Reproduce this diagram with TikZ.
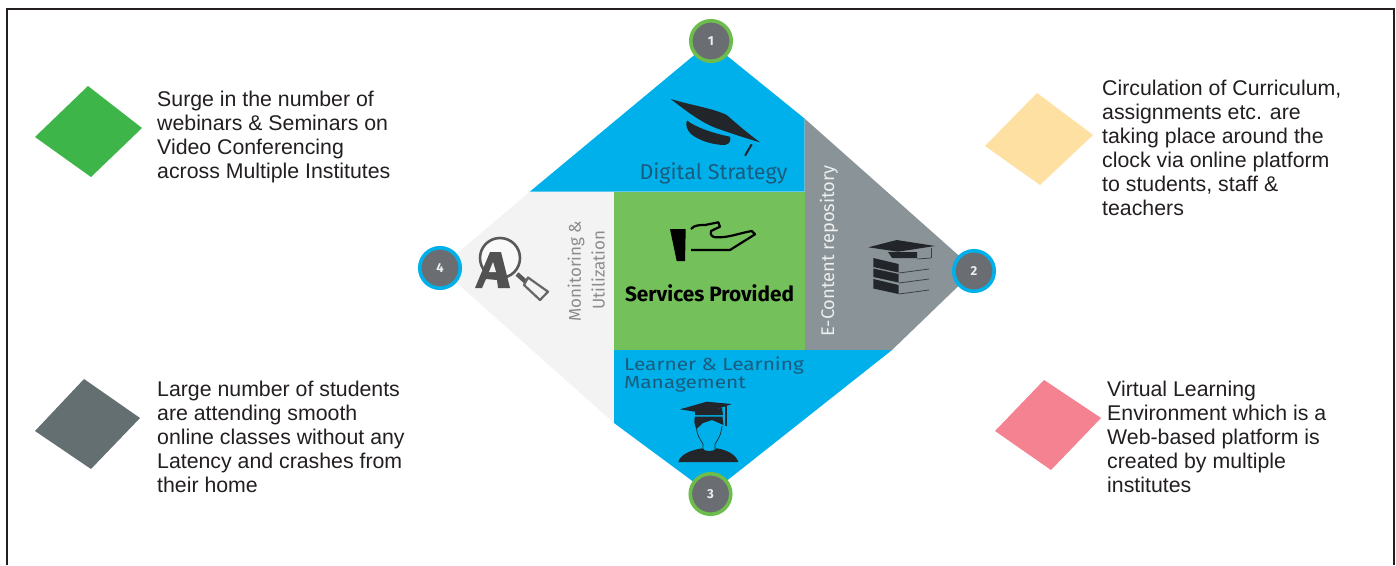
\documentclass[tikz,border=0pt]{standalone}
\usepackage{fontspec}
\usepackage{graphicx}
\setmainfont{Liberation Sans}
\newfontfamily\din{Fira Sans}
\definecolor{ink}{HTML}{231F20}
\definecolor{cyanfill}{HTML}{00B0EA}
\definecolor{greenfill}{HTML}{74C05B}
\definecolor{grayfill}{HTML}{8A9397}
\definecolor{palefill}{HTML}{F3F3F3}
\definecolor{badge}{HTML}{6A6E72}
\definecolor{ringgreen}{HTML}{6CBD4B}
\definecolor{icondark}{HTML}{22262A}
\definecolor{bluelabel}{HTML}{1B5C7E}
\definecolor{swgreen}{RGB}{62,181,73}
\definecolor{swyellow}{RGB}{253,224,162}
\definecolor{swgray}{RGB}{100,111,114}
\definecolor{swpink}{RGB}{244,130,144}
\tikzset{
  bodytext/.style={anchor=north west,inner sep=0pt,align=left,text=ink,font=\fontsize{21.3}{24}\selectfont},
  badgenode/.style={circle,fill=badge,draw=#1,line width=3.6pt,minimum size=40.5pt,inner sep=0pt,text=white!88!badge,font=\din\bfseries\fontsize{13}{13}\selectfont},
  swatch/.style={fill=#1,draw=none},
  sector/.style={fill=#1,draw=none},
  lab/.style={inner sep=0pt,font=\din\fontsize{#1}{#1}\selectfont},
  lab/.default=17,
}
\begin{document}
\begin{tikzpicture}[x=1pt,y=-1pt]
\useasboundingbox (0,0) rectangle (1396,565);
\fill[white] (0,0) rectangle (1396,565);
% frame (open at the bottom edge of the crop)
\draw[line width=1.3pt,ink] (7,565) -- (7,9) -- (1394,9) -- (1394,565);
% colour swatches
\fill[swatch=swgreen] (88,86) -- (142,128) -- (91,177) -- (35,137) -- cycle;
\fill[swatch=swyellow] (1037,93) -- (1093,135) -- (1040,185) -- (985,146) -- cycle;
\fill[swatch=swgray] (84,379) -- (140,418) -- (91,469) -- (35,431) -- cycle;
\fill[swatch=swpink] (1044,380) -- (1101,418) -- (1051,470) -- (995,431) -- cycle;
% sectors
\fill[sector=palefill] (530,191.5) -- (614,191.5) -- (614,423) -- (440,268) -- cycle;
\fill[sector=cyanfill] (710,42) -- (804.5,118.5) -- (804.5,191.5) -- (530,191.5) -- cycle;
\fill[sector=grayfill] (804.5,118.5) -- (975,270) -- (892,350) -- (804.5,350) -- cycle;
\fill[sector=cyanfill] (614,350) -- (892,350) -- (710,494) -- (614,423) -- cycle;
\fill[sector=greenfill] (614,191.5) rectangle (804.5,350);
% graduation cap (top)
\fill[icondark] (670.7,99) .. controls (690,105) and (712,108) .. (726.7,115) .. controls (738,125) and (750,135) .. (760,142.3) .. controls (745,138) and (730,133) .. (716.7,128.3) .. controls (700,122) and (685,110) .. (670.7,99) -- cycle;
\fill[icondark] (687,120.5) .. controls (695,127) and (712,133) .. (730,136.7) .. controls (731,140) and (730,144) .. (725,145) .. controls (712,145) and (698,140) .. (691,134) .. controls (687,130) and (685,125) .. (687,120.5) -- cycle;
\draw[icondark,line width=2pt] (751.7,144.3) -- (745,155.7);
% hand
\fill[black] (670,229) -- (685.7,229) -- (685,261) -- (676.7,261) -- cycle;
\draw[black,line width=2.2pt,line join=round] (691,229) .. controls (694,225) and (700,225) .. (705,225) -- (718.3,222.3) -- (720,226.7) -- (711,231) .. controls (710,235) and (712,237) .. (716,237.3) .. controls (728,238) and (740,233) .. (751.7,231) -- (755,234.3) -- (730,250) -- (691,250);
% stacked books with cap
\fill[icondark] (868.3,247.3) -- (896.7,240) -- (935,246) -- (898,251.7) -- cycle;
\fill[icondark] (888,252) -- (917,252) -- (917,258) -- (892,258) -- cycle;
\draw[icondark!80!grayfill,line width=1.4pt] (931.5,248) -- (931.5,258);
\draw[icondark!80!grayfill,line width=.7pt] (917,259) -- (931,258);
\fill[icondark] (873.3,258) -- (898.5,264) -- (898.5,272.5) -- (873.3,267) -- cycle;
\fill[icondark] (873.3,268.5) -- (898.5,274) -- (898.5,282.5) -- (873.3,277) -- cycle;
\fill[icondark] (873.3,279) -- (898.5,285) -- (898.5,294) -- (873.3,288.5) -- cycle;
\draw[icondark!75!grayfill,line width=.8pt] (899,273) -- (929,269) (899,283) -- (929,279) (899,294) -- (929,290);
% magnifier
\fill[white!50!palefill] (500,258) circle (20);
\draw[black!65,line width=2.6pt] (500,258) circle (20);
\fill[black!68] (490,252) -- (501,252) -- (510,288) -- (498,288) -- (497,280) -- (486,279) -- (482,288) -- (475,288) -- cycle;
\fill[palefill] (493,262) -- (496,272) -- (489,272) -- cycle;
\draw[black!65,line width=4.5pt] (517,274) -- (526,282);
\draw[black!60,line width=2.2pt,fill=palefill,line join=round] (528,277.5) -- (548,291.7) -- (540,300) -- (524,285) -- cycle;
% student
\fill[icondark] (680,409.3) -- (706.7,401.7) -- (731.7,404) -- (705,413.3) -- cycle;
\fill[icondark] (695,411) -- (722,408) -- (723,415) -- (695,415) -- cycle;
\draw[icondark,line width=1.6pt] (725.7,405) -- (725.7,426);
\fill[icondark] (695,416.7) -- (722.5,416.7) -- (723.5,425) -- (712,420) -- (703,423) -- (696.5,429) .. controls (694,425) and (694,420) .. (695,416.7) -- cycle;
\draw[icondark,line width=.7pt] (696.5,429) .. controls (698,438) and (702,442) .. (703,444) -- (703,449) (722,426) .. controls (721,436) and (717,441) .. (715,444) -- (715,449);
\fill[icondark] (678.3,462) .. controls (680,455) and (690,450) .. (702.5,448.3) .. controls (704,452) and (714,452) .. (716.5,448.3) .. controls (728,450) and (736,455) .. (738.3,462) -- cycle;
% sector labels
\node[lab=21.5,text=bluelabel] (digital) at (713.5,173) {Digital Strategy};
\node[text=black,inner sep=0pt,font=\din\bfseries\fontsize{20.8}{20.8}\selectfont] (services) at (709.5,293) {Services Provided};
\node[lab=17.5,text=bluelabel,anchor=base west] (learner) at (624,370) {\scalebox{1.19}[1]{Learner \& Learning}};
\node[lab=17.5,text=bluelabel,anchor=base west] (manage) at (624,388) {\scalebox{1.19}[1]{Management}};
\node[lab=17,text=black!45,rotate=90] (monitor) at (576,271) {Monitoring \&};
\node[lab=17,text=black!45,rotate=90] (utilize) at (598,270) {Utilization};
\node[lab=18.3,text=white!85!grayfill,rotate=90] (econtent) at (829,251) {E-Content repository};
% badges
\node[badgenode=ringgreen] (b1) at (711,41) {1};
\node[badgenode=cyanfill] (b2) at (974,271) {2};
\node[badgenode=ringgreen] (b3) at (710.5,494) {3};
\node[badgenode=cyanfill] (b4) at (440,268) {4};
% descriptions
\node[bodytext] (t1) at (157,90.5) {Surge in the number of\\webinars \& Seminars on\\Video Conferencing\\across Multiple Institutes};
\node[bodytext] (t2) at (157,380.5) {Large number of students\\are attending smooth\\online classes without any\\Latency and crashes from\\their home};
\node[bodytext] (t3) at (1102,79.5) {Circulation of Curriculum,\\assignments etc. are\\taking place around the\\clock via online platform\\to students, staff \&\\teachers};
\node[bodytext] (t4) at (1107,380.5) {Virtual Learning\\Environment which is a\\Web-based platform is\\created by multiple\\institutes};
\end{tikzpicture}
\end{document}
